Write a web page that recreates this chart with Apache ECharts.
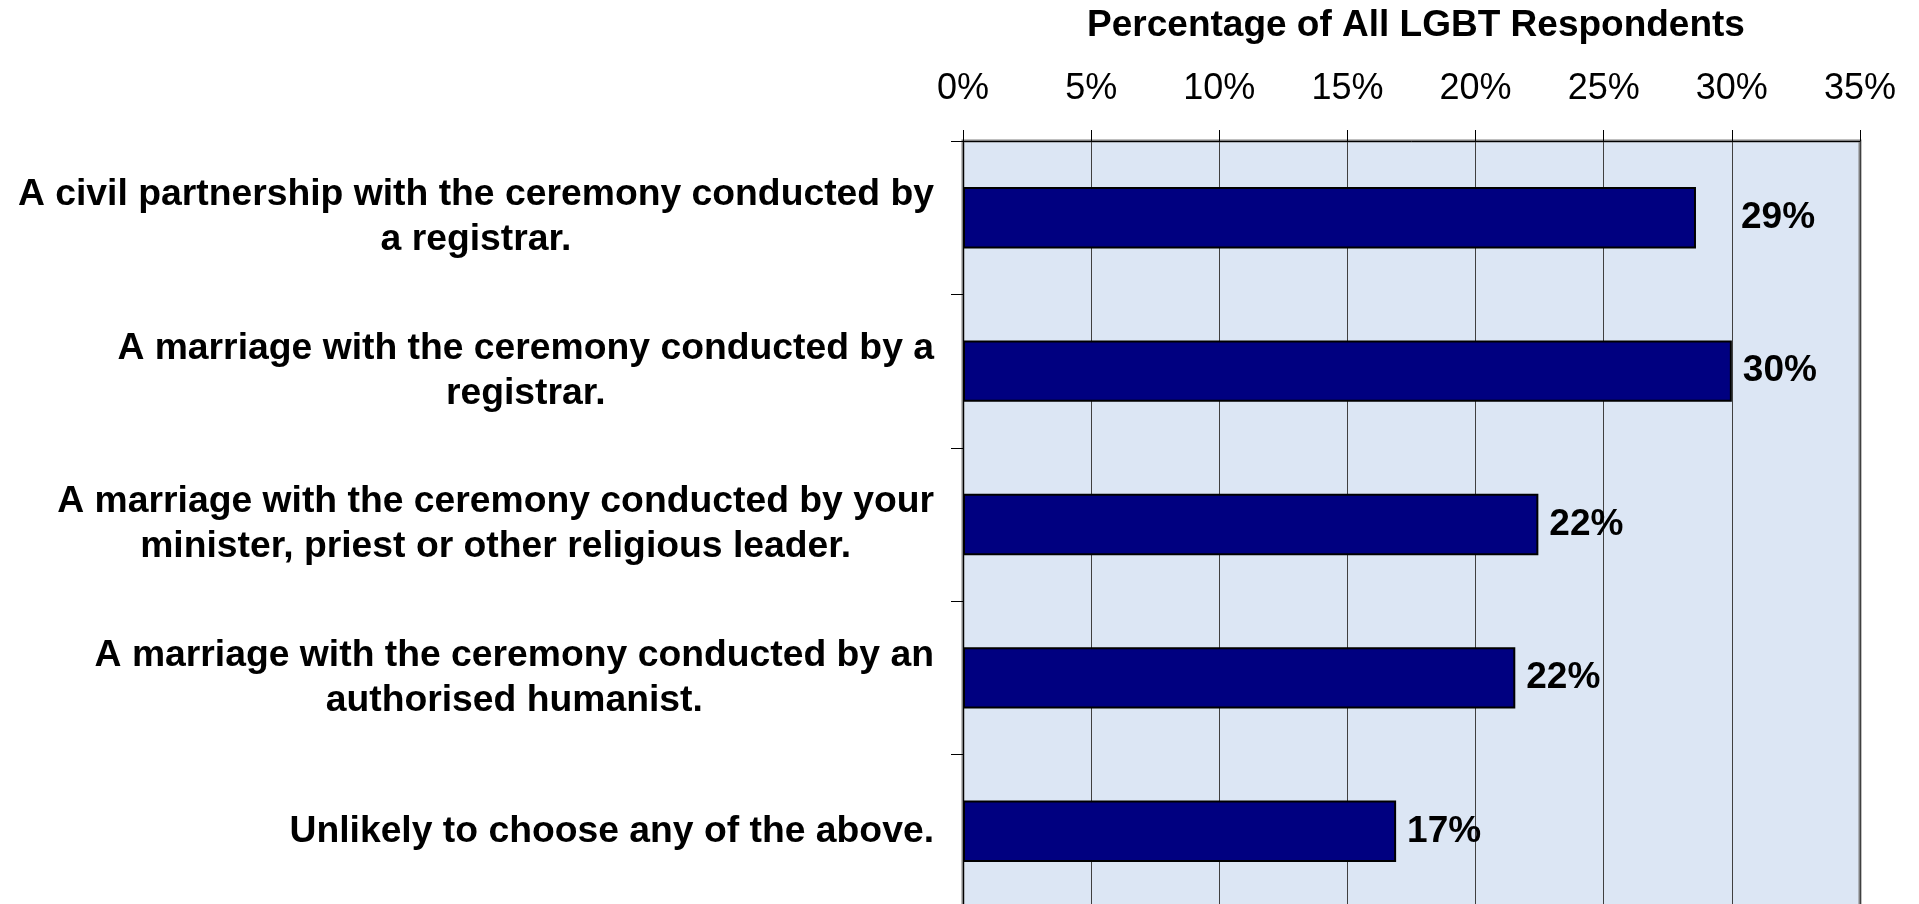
<!DOCTYPE html>
<html>
<head>
<meta charset="utf-8">
<title>Percentage of All LGBT Respondents</title>
<script src="https://cdn.jsdelivr.net/npm/echarts@6/dist/echarts.min.js"></script>
<style>
    html, body { margin: 0; padding: 0; background: #ffffff; }
    #chart { width: 1919px; height: 904px; }
</style>
</head>
<body>
<div id="chart"></div>
<script>
// categories, top to bottom (line breaks as in the original)
var categories = [
    'A civil partnership with the ceremony conducted by\na registrar.',
    'A marriage with the ceremony conducted by a\nregistrar.',
    'A marriage with the ceremony conducted by your\nminister, priest or other religious leader.',
    'A marriage with the ceremony conducted by an\nauthorised humanist.',
    'Unlikely to choose any of the above.'
];
// percentage of all LGBT respondents
var percentValues = [28.6, 30.0, 22.45, 21.55, 16.9];
// data labels as printed on the chart
var valueLabels = ['29%', '30%', '22%', '22%', '17%'];
// axis ticks
var axisMin = 0;
var axisMax = 35;
var axisStep = 5;

var fontFamily = '"Liberation Sans", Arial, sans-serif';

var chart = echarts.init(document.getElementById('chart'));

var barData = percentValues.map(function (v, i) {
    var item = { value: v };
    // the first label sits further out in the original
    if (i === 0) {
        item.label = { offset: [34, 0] };
    }
    return item;
});

var option = {
    backgroundColor: '#ffffff',
    animation: false,
    title: {
        text: 'Percentage of All LGBT Respondents',
        left: 1411,
        top: 2,
        textAlign: 'center',
        textStyle: {
            fontFamily: fontFamily,
            fontSize: 37,
            fontWeight: 'bold',
            color: '#000000'
        }
    },
    grid: {
        left: 963,
        right: 59,
        top: 141,
        bottom: -4,
        show: true,
        backgroundColor: '#dce6f4',
        borderColor: '#808080',
        borderWidth: 3,
        containLabel: false,
        outerBoundsMode: 'none'
    },
    xAxis: {
        type: 'value',
        position: 'top',
        min: axisMin,
        max: axisMax,
        interval: axisStep,
        axisLine: { show: true, lineStyle: { color: '#000000', width: 1 } },
        axisTick: { show: true, length: 11, inside: false, lineStyle: { color: '#000000' } },
        splitLine: { show: true, lineStyle: { color: '#404040', width: 1 } },
        axisLabel: {
            margin: 34,
            formatter: '{value}%',
            fontFamily: fontFamily,
            fontSize: 36,
            color: '#000000'
        }
    },
    yAxis: {
        type: 'category',
        inverse: true,
        data: categories,
        axisLine: { show: true, lineStyle: { color: '#000000', width: 1 } },
        axisTick: { show: true, length: 12, lineStyle: { color: '#000000' } },
        splitLine: { show: false },
        axisLabel: {
            margin: 29,
            interval: 0,
            formatter: function (value) {
                return value.split('\n').map(function (s) {
                    return '{c|' + s + '}';
                }).join('\n');
            },
            rich: {
                c: {
                    align: 'center',
                    fontFamily: fontFamily,
                    fontSize: 37.3,
                    fontWeight: 'bold',
                    lineHeight: 45,
                    color: '#000000'
                }
            }
        }
    },
    series: [
        {
            type: 'bar',
            data: barData,
            barWidth: '40%',
            itemStyle: {
                color: '#000080',
                borderColor: '#000000',
                borderWidth: 2
            },
            label: {
                show: true,
                position: 'right',
                distance: 11,
                formatter: function (p) {
                    return valueLabels[p.dataIndex];
                },
                fontFamily: fontFamily,
                fontSize: 37,
                fontWeight: 'bold',
                color: '#000000'
            }
        }
    ]
};

chart.setOption(option);
</script>
</body>
</html>
